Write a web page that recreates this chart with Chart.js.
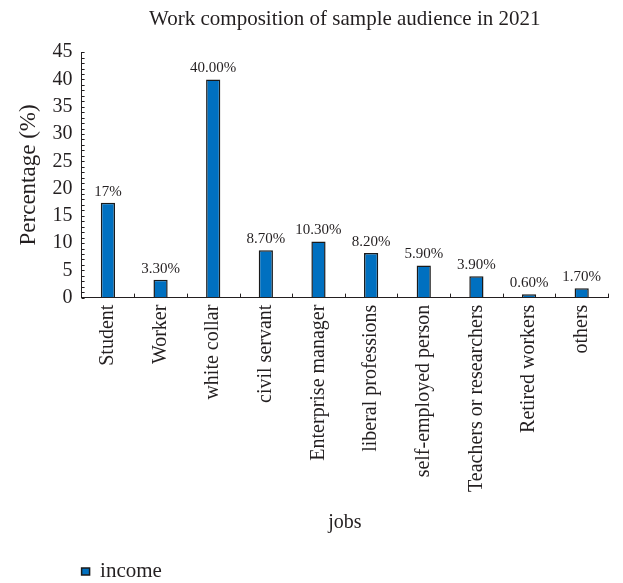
<!DOCTYPE html>
<html>
<head>
<meta charset="utf-8">
<script src="https://cdn.jsdelivr.net/npm/chart.js@4/dist/chart.umd.min.js"></script>
<style>
  html, body { margin: 0; padding: 0; background: #fff; }
  #wrap { width: 623px; height: 583px; }
</style>
</head>
<body>
<div id="wrap"><canvas id="jobsChart"></canvas></div>
<script>
var jobs = ['Student', 'Worker', 'white collar', 'civil servant', 'Enterprise manager',
  'liberal professions', 'self-employed person', 'Teachers or researchers', 'Retired workers', 'others'];
var income = [17.4, 3.3, 40, 8.7, 10.3, 8.2, 5.9, 3.9, 0.6, 1.7];
var incomeLabels = ['17%', '3.30%', '40.00%', '8.70%', '10.30%', '8.20%', '5.90%', '3.90%', '0.60%', '1.70%'];

var serif = "'Liberation Serif', 'Times New Roman', serif";
var ink = '#231f20';

// small inward ticks like the original figure, plus value labels
var extras = {
  id: 'extras',
  afterLayout: function (chart) {
    // centre the title over the plot, push the legend to the axis line
    chart.titleBlock.left = chart.chartArea.left;
    chart.titleBlock.right = chart.chartArea.right;
    var pad = chart.legend.options.labels.padding;
    chart.legend.left = chart.chartArea.left - pad;
  },
  afterDatasetsDraw: function (chart) {
    var ctx = chart.ctx;
    var y = chart.scales.y;
    var area = chart.chartArea;
    ctx.save();
    ctx.strokeStyle = ink;
    ctx.lineWidth = 1;
    ctx.beginPath();
    for (var v = 0; v <= 45; v++) {
      var py = Math.round(y.getPixelForValue(v)) + 0.5;
      ctx.moveTo(area.left, py);
      ctx.lineTo(area.left + 3, py);
    }
    var w = (area.right - area.left) / jobs.length;
    for (var i = 1; i <= jobs.length; i++) {
      var px = Math.round(area.left + i * w) + 0.5;
      ctx.moveTo(px, area.bottom);
      ctx.lineTo(px, area.bottom - 4);
    }
    ctx.stroke();

    ctx.fillStyle = ink;
    ctx.font = '15px ' + serif;
    ctx.textAlign = 'center';
    ctx.textBaseline = 'alphabetic';
    var meta = chart.getDatasetMeta(0);
    meta.data.forEach(function (bar, k) {
      ctx.fillText(incomeLabels[k], bar.x, bar.y - 7);
    });
    ctx.restore();
  }
};

new Chart(document.getElementById('jobsChart'), {
  type: 'bar',
  data: {
    labels: jobs,
    datasets: [{
      label: 'income',
      data: income,
      backgroundColor: '#0070c0',
      borderColor: '#1a1a1a',
      borderWidth: 1.5,
      categoryPercentage: 1,
      barPercentage: 0.27
    }]
  },
  options: {
    responsive: true,
    maintainAspectRatio: false,
    animation: false,
    layout: { padding: { left: 15, right: 15, top: 0, bottom: -9 } },
    plugins: {
      title: {
        display: true,
        text: 'Work composition of sample audience in 2021',
        color: ink,
        font: { family: serif, size: 21, weight: 'normal' },
        padding: { top: 7, bottom: 20 }
      },
      legend: {
        position: 'bottom',
        align: 'start',
        labels: {
          color: ink,
          font: { family: serif, size: 21 },
          boxWidth: 8,
          boxHeight: 7,
          padding: 10
        }
      },
      tooltip: { enabled: false }
    },
    scales: {
      x: {
        grid: { display: true, drawOnChartArea: false, drawTicks: false },
        border: { color: ink, width: 1 },
        ticks: {
          color: ink,
          font: { family: serif, size: 20 },
          minRotation: 90,
          maxRotation: 90,
          autoSkip: false,
          padding: 7
        },
        title: {
          display: true,
          text: 'jobs',
          color: ink,
          font: { family: serif, size: 20 },
          padding: { top: 12, bottom: 16 }
        }
      },
      y: {
        min: 0,
        max: 45,
        grid: { display: true, drawOnChartArea: false, drawTicks: false },
        border: { color: ink, width: 1 },
        ticks: {
          stepSize: 5,
          autoSkip: false,
          color: ink,
          font: { family: serif, size: 20 },
          padding: 9
        },
        title: {
          display: true,
          text: 'Percentage (%)',
          color: ink,
          font: { family: serif, size: 23 },
          padding: { top: 0, bottom: 1 }
        }
      }
    }
  },
  plugins: [extras]
});
</script>
</body>
</html>
